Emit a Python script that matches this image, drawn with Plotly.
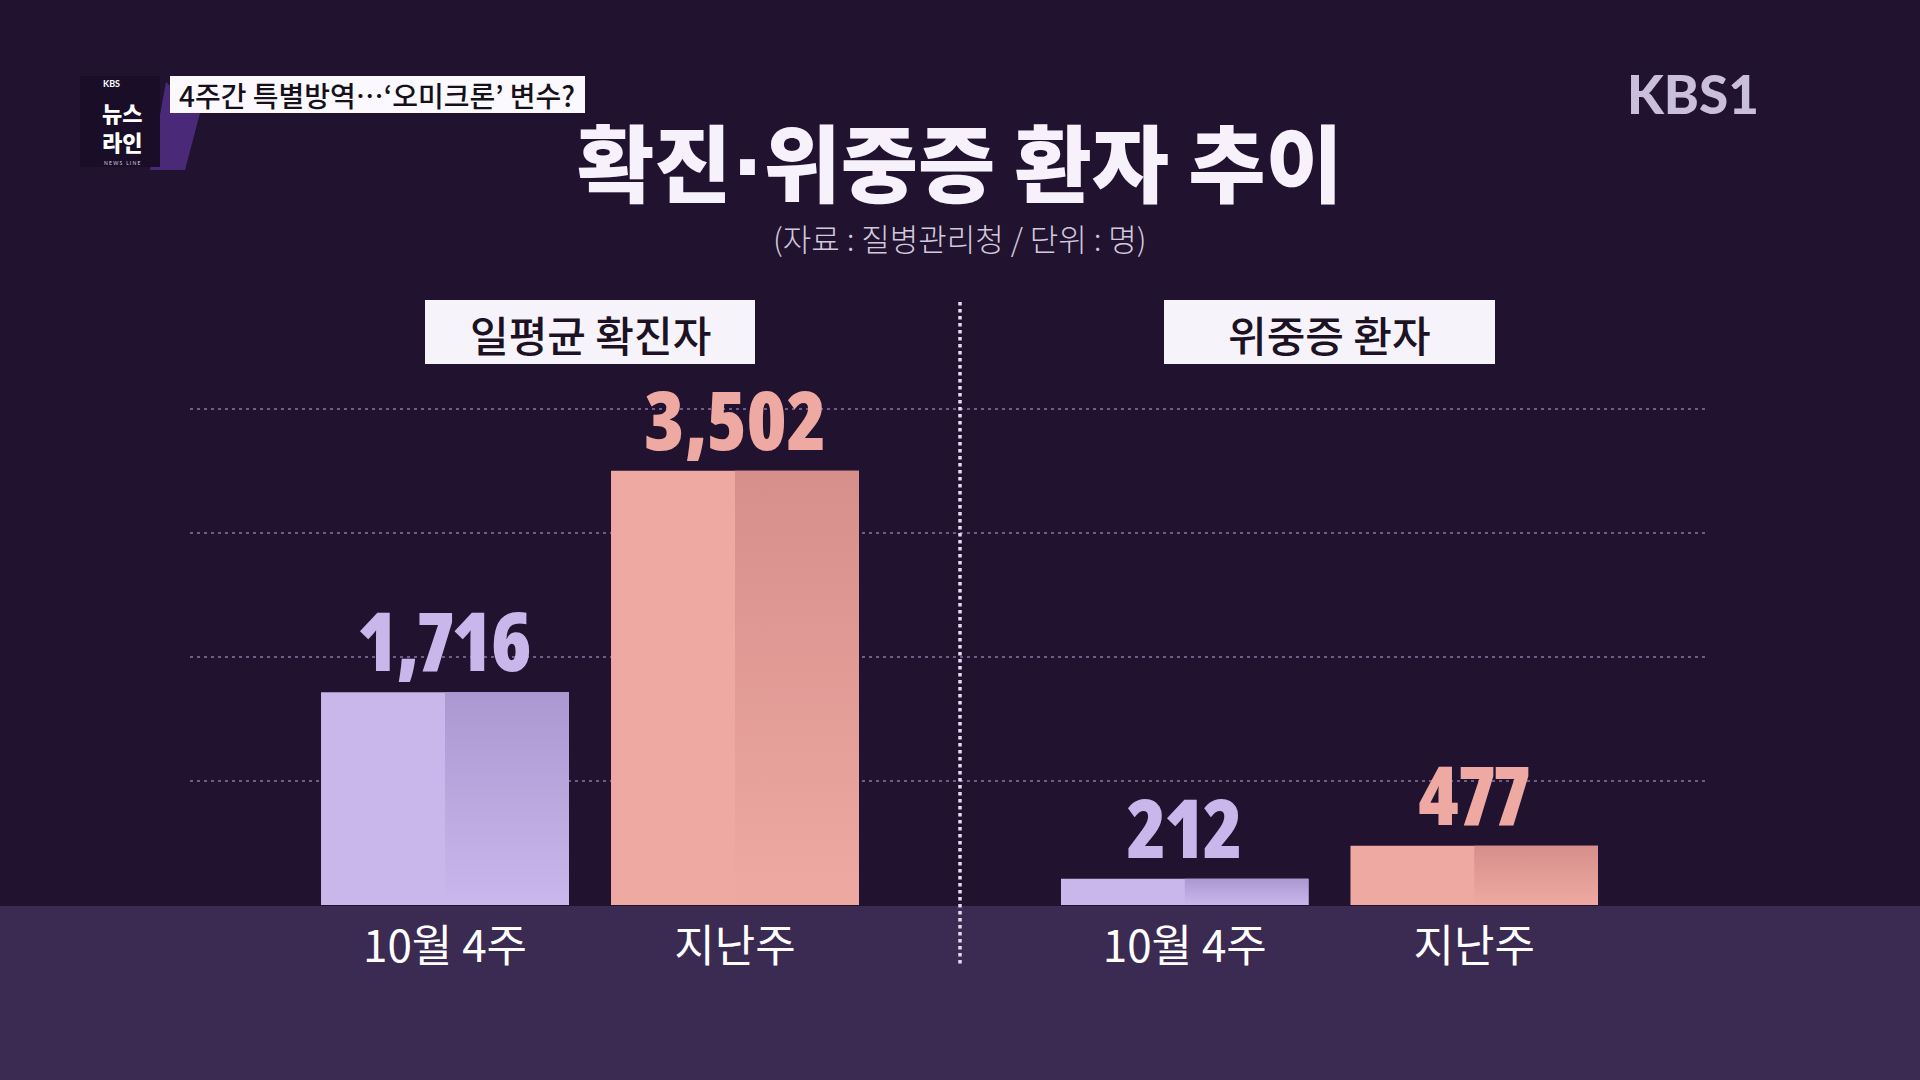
import plotly.graph_objects as go

# ---------------- data ----------------
categories = ["10월 4주", "지난주"]
confirmed_daily_avg = [1716, 3502]     # 일평균 확진자
critical_patients = [212, 477]         # 위중증 환자
gridline_values = [1000, 2000, 3000, 4000]

title_text = "확진<span style=\"font-family:'DejaVu Sans'\">·</span>위중증 환자 추이"
subtitle_text = "(자료 : 질병관리청 / 단위 : 명)"
panel_titles = ["일평균 확진자", "위중증 환자"]
headline_text = "4주간 특별방역…‘오미크론’ 변수?"

# ---------------- style ----------------
W, H = 1920, 1080
BG = "#211230"
BAND = "#3b2a52"
LAV = "#c9b7ec"
LAV_DARK = "#ab98d1"
PINK = "#efa9a3"
PINK_DARK = "#d68f8a"
KR = "Noto Sans CJK KR"
NUM_FONT = dict(family="Open Sans, DejaVu Sans Condensed, sans-serif", weight=800, size=82)
NUM_STYLE = "font-stretch:condensed;font-variant-numeric:proportional-nums"


def px(x):
    return x / W


def py(y):
    return 1 - y / H


BASE_PX, TOP_PX = 905, 300
PX_PER_UNIT = 0.124
Y_MAX = (BASE_PX - TOP_PX) / PX_PER_UNIT
BAR_W = 0.855

fig = go.Figure()

panels = [
    ("x", "y", confirmed_daily_avg),
    ("x2", "y2", critical_patients),
]
bar_colors = [LAV, PINK]
dark_colors = [LAV_DARK, PINK_DARK]

for xa, ya, vals in panels:
    xs = list(range(len(categories)))
    fig.add_trace(go.Bar(
        x=xs, y=vals, width=BAR_W, xaxis=xa, yaxis=ya,
        marker=dict(color=bar_colors, line=dict(width=0)),
        hoverinfo="skip", showlegend=False,
    ))
    # darker right half with vertical gradient
    for i, v in enumerate(vals):
        hx = [i, i + BAR_W / 2, i + BAR_W / 2, i, i]
        hy = [0, 0, v, v, 0]
        fig.add_trace(go.Scatter(
            x=hx, y=hy, xaxis=xa, yaxis=ya, mode="lines",
            line=dict(width=0), fill="toself",
            fillgradient=dict(
                type="vertical",
                colorscale=[[0, bar_colors[i]], [1, dark_colors[i]]],
            ),
            hoverinfo="skip", showlegend=False,
        ))
    # value labels
    for i, v in enumerate(vals):
        f = dict(NUM_FONT)
        f["color"] = bar_colors[i]
        fig.add_annotation(
            x=i, y=v, xref=xa, yref=ya,
            text=f'<span style="{NUM_STYLE}">{v:,}</span>',
            showarrow=False, yanchor="bottom", yshift=-5, font=f,
        )

axis_common = dict(
    range=[-0.5, 1.5], tickvals=[0, 1], ticktext=categories,
    showgrid=False, zeroline=False, showline=False, ticks="",
    tickfont=dict(family=KR, size=44, color="white"),
    ticklabelstandoff=12, fixedrange=True,
)
yaxis_common = dict(range=[0, Y_MAX], showgrid=False, zeroline=False,
                    showticklabels=False, showline=False, ticks="",
                    domain=[py(BASE_PX), py(TOP_PX)], fixedrange=True)

fig.update_layout(
    width=W, height=H,
    margin=dict(l=0, r=0, t=0, b=0),
    paper_bgcolor=BG, plot_bgcolor="rgba(0,0,0,0)",
    barmode="overlay",
    xaxis=dict(domain=[px(300), px(880)], anchor="y", **axis_common),
    xaxis2=dict(domain=[px(1040), px(1619)], anchor="y2", **axis_common),
    yaxis=dict(anchor="x", **yaxis_common),
    yaxis2=dict(anchor="x2", **yaxis_common),
)

shapes = []
# bottom band
shapes.append(dict(type="rect", xref="paper", yref="paper", x0=0, x1=1,
                   y0=0, y1=py(906), fillcolor=BAND, line=dict(width=0),
                   layer="below"))
# gridlines
for g in gridline_values:
    shapes.append(dict(type="line", xref="paper", yref="y", x0=px(190), x1=px(1705),
                       y0=g, y1=g, layer="below",
                       line=dict(color="rgba(140,118,165,0.75)", width=2, dash="3px,4px")))
# vertical divider
shapes.append(dict(type="line", xref="paper", yref="paper", x0=px(960), x1=px(960),
                   y0=py(302), y1=py(967),
                   line=dict(color="#e6dcf0", width=3.5, dash="3.5px,3.5px")))
# panel title boxes
shapes.append(dict(type="rect", xref="paper", yref="paper", x0=px(425), x1=px(755),
                   y0=py(364), y1=py(300), fillcolor="#f7f3fa", line=dict(width=0)))
shapes.append(dict(type="rect", xref="paper", yref="paper", x0=px(1164), x1=px(1495),
                   y0=py(364), y1=py(300), fillcolor="#f7f3fa", line=dict(width=0)))
# top-left program logo
shapes.append(dict(type="path", xref="paper", yref="paper",
                   path=f"M {px(150)},{py(170)} L {px(166)},{py(82)} L {px(200)},{py(113)} L {px(185)},{py(170)} Z",
                   fillcolor="#4a2a78", line=dict(width=0)))
shapes.append(dict(type="rect", xref="paper", yref="paper", x0=px(80), x1=px(160),
                   y0=py(167), y1=py(76), fillcolor="#1a0d28", line=dict(width=0)))
shapes.append(dict(type="rect", xref="paper", yref="paper", x0=px(170), x1=px(585),
                   y0=py(113), y1=py(76), fillcolor="#fbf9fd", line=dict(width=0)))
fig.update_layout(shapes=shapes)

ann = []
ann.append(dict(x=px(960), y=py(159), text=title_text,
                font=dict(family=KR, size=84, color="#f6f1fa", weight=900)))
ann.append(dict(x=px(960), y=py(237), text=subtitle_text,
                font=dict(family=KR, size=31, color="#d2c9dc", weight=300)))
ann.append(dict(x=px(590), y=py(333), text=panel_titles[0],
                font=dict(family=KR, size=42, color="#1c1224", weight=500)))
ann.append(dict(x=px(1329.5), y=py(333), text=panel_titles[1],
                font=dict(family=KR, size=42, color="#1c1224", weight=500)))
ann.append(dict(x=px(177), y=py(95), text=headline_text, xanchor="left",
                font=dict(family=KR, size=28, color="#15101a", weight=500)))
ann.append(dict(x=px(111), y=py(84), text="KBS",
                font=dict(family="Lato", size=9, color="white", weight=700)))
ann.append(dict(x=px(122), y=py(126), text="뉴스<br>라인",
                font=dict(family=KR, size=22, color="white", weight=900)))
ann.append(dict(x=px(122), y=py(163), text="N E W S   L I N E",
                font=dict(family="Lato", size=5, color="#d8d0e0")))
ann.append(dict(x=px(1761), y=py(93), text="KBS1", xanchor="right",
                font=dict(family="Lato", size=53, color="#c9bedb", weight=900)))
for a in ann:
    a.update(xref="paper", yref="paper", showarrow=False)
    a.setdefault("xanchor", "center")
    a.setdefault("yanchor", "middle")
    fig.add_annotation(**a)

fig.write_html("out.html")
